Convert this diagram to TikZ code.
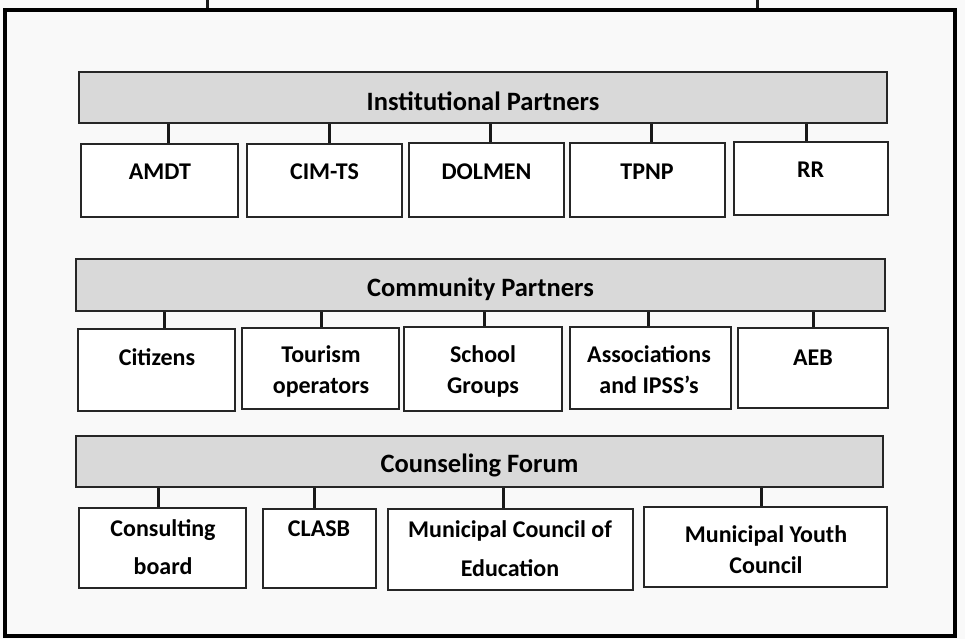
\documentclass[tikz,border=0pt]{standalone}
\usepackage{fontspec}
\setmainfont{Carlito}
\definecolor{bgc}{RGB}{249,249,249}
\definecolor{barc}{RGB}{217,217,217}
\tikzset{
  frame/.style={draw=black, line width=3.5pt, fill=bgc, inner sep=0pt},
  bar/.style={draw=black!85, line width=1.6pt, fill=barc, inner sep=0pt},
  box/.style={draw=black!85, line width=1.6pt, fill=white, inner sep=0pt},
  conn/.style={line width=3pt, black!90},
  htxt/.style={font=\fontsize{26.5}{30}\selectfont\bfseries, inner sep=0pt},
  btxt/.style={font=\fontsize{24}{31}\selectfont\bfseries, inner sep=0pt, align=center},
}
\begin{document}
\begin{tikzpicture}[x=1pt,y=-1pt]
\useasboundingbox[fill=bgc] (0,0) rectangle (965,639);
% outer frame
\node[frame, minimum width=950pt, minimum height=626pt] (fr) at (480,323) {};
\coordinate (t1) at (207,0);
\coordinate (t2) at (757,0);
\draw[conn] (t1) -- (t1 |- fr.north);
\draw[conn] (t2) -- (t2 |- fr.north);

% ---- Institutional Partners ----
\node[bar, minimum width=808pt, minimum height=51pt] (bar1) at (483,97.5) {};
\node[htxt] (h1) at (483,101) {Institutional Partners};
\node[box, minimum width=157pt, minimum height=73pt] (a1) at (159.5,180.5) {};
\node[box, minimum width=155pt, minimum height=73pt] (a2) at (324.5,180.5) {};
\node[box, minimum width=155pt, minimum height=74pt] (a3) at (486.5,180) {};
\node[box, minimum width=155pt, minimum height=74pt] (a4) at (647.5,180) {};
\node[box, minimum width=154pt, minimum height=73pt] (a5) at (811,178.5) {};
\node[btxt] (ta1) at (160,171.5) {AMDT};
\node[btxt] (ta2) at (324.5,171.5) {CIM-TS};
\node[btxt] (ta3) at (486.5,171.5) {DOLMEN};
\node[btxt] (ta4) at (647,171.5) {TPNP};
\node[btxt] (ta5) at (810.5,169.5) {RR};
\draw[conn] ([xshift=8.5pt]a1.north) -- ([xshift=8.5pt]a1.north |- bar1.south);
\draw[conn] ([xshift=4.5pt]a2.north) -- ([xshift=4.5pt]a2.north |- bar1.south);
\draw[conn] ([xshift=3.5pt]a3.north) -- ([xshift=3.5pt]a3.north |- bar1.south);
\draw[conn] ([xshift=3.5pt]a4.north) -- ([xshift=3.5pt]a4.north |- bar1.south);
\draw[conn] ([xshift=-5pt]a5.north) -- ([xshift=-5pt]a5.north |- bar1.south);

% ---- Community Partners ----
\node[bar, minimum width=809pt, minimum height=52pt] (bar2) at (480.5,285) {};
\node[htxt] (h2) at (480.5,289) {Community Partners};
\node[box, minimum width=157pt, minimum height=82pt] (b1) at (156.5,370) {};
\node[box, minimum width=157pt, minimum height=81pt] (b2) at (320.5,368.5) {};
\node[box, minimum width=158pt, minimum height=84pt] (b3) at (483,369) {};
\node[box, minimum width=161pt, minimum height=82pt] (b4) at (650.5,368) {};
\node[box, minimum width=150pt, minimum height=80pt] (b5) at (813,368) {};
\node[btxt] (tb1) at (157,357.5) {Citizens};
\node[btxt] (tb2) at (321,371) {Tourism\\operators};
\node[btxt] (tb3) at (483,371.5) {School\\Groups};
\node[btxt] (tb4) at (649,370) {Associations\\and IPSS’s};
\node[btxt] (tb5) at (813,357.5) {AEB};
\draw[conn] ([xshift=7.5pt]b1.north) -- ([xshift=7.5pt]b1.north |- bar2.south);
\draw[conn] ([xshift=0.5pt]b2.north) -- ([xshift=0.5pt]b2.north |- bar2.south);
\draw[conn] ([xshift=1pt]b3.north) -- ([xshift=1pt]b3.north |- bar2.south);
\draw[conn] ([xshift=-2.5pt]b4.north) -- ([xshift=-2.5pt]b4.north |- bar2.south);
\draw[conn] (b5.north) -- (b5.north |- bar2.south);

% ---- Counseling Forum ----
\node[bar, minimum width=807pt, minimum height=51pt] (bar3) at (479.5,461.5) {};
\node[htxt] (h3) at (479.5,465) {Counseling Forum};
\node[box, minimum width=167pt, minimum height=80pt] (c1) at (162.5,548) {};
\node[box, minimum width=113pt, minimum height=79pt] (c2) at (319.5,548.5) {};
\node[box, minimum width=245pt, minimum height=81pt] (c3) at (510.5,549.5) {};
\node[box, minimum width=243pt, minimum height=80pt] (c4) at (765.5,547) {};
\node[btxt] (tc1) at (163,547.5) {Consulting\\[7pt]board};
\node[btxt] (tc2) at (319,528.5) {CLASB};
\node[btxt] (tc3) at (510,549) {Municipal Council of\\[8pt]Education};
\node[btxt] (tc4) at (766,550) {Municipal Youth\\Council};
\draw[conn] ([xshift=-4.5pt]c1.north) -- ([xshift=-4.5pt]c1.north |- bar3.south);
\draw[conn] ([xshift=-5.5pt]c2.north) -- ([xshift=-5.5pt]c2.north |- bar3.south);
\draw[conn] ([xshift=-7.5pt]c3.north) -- ([xshift=-7.5pt]c3.north |- bar3.south);
\draw[conn] ([xshift=-4.5pt]c4.north) -- ([xshift=-4.5pt]c4.north |- bar3.south);
\end{tikzpicture}
\end{document}
